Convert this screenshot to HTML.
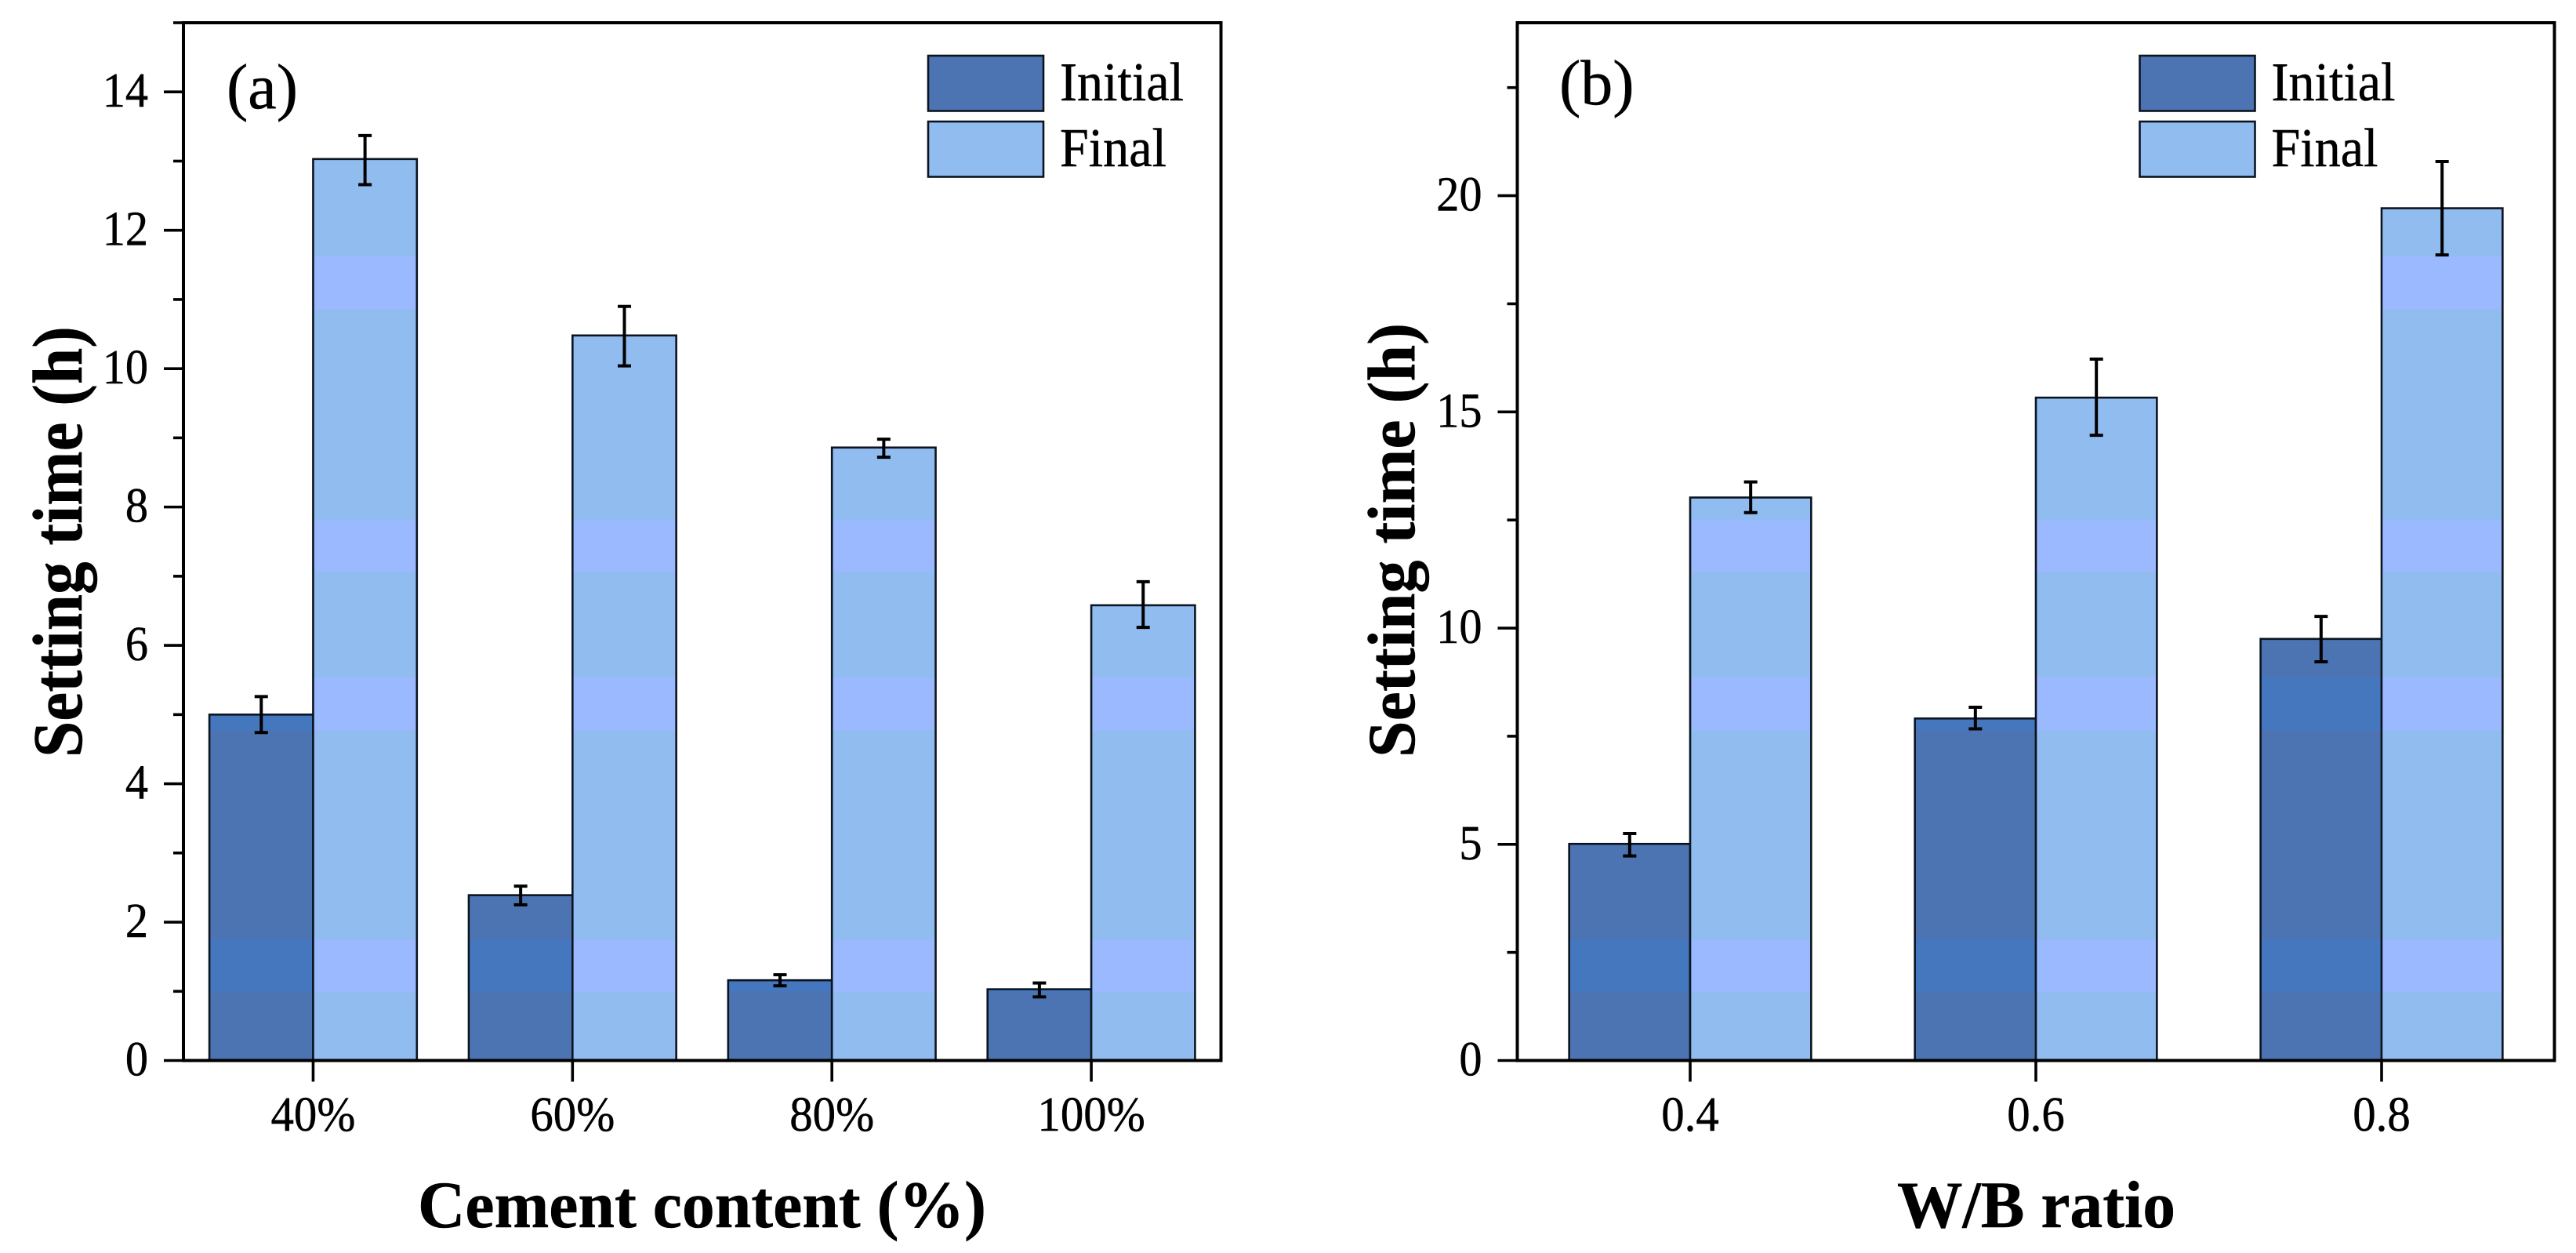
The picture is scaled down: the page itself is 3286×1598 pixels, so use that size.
<!DOCTYPE html>
<html lang="en">
<head>
<meta charset="utf-8">
<title>Setting time charts</title>
<style>
html,body{margin:0;padding:0;background:#fff;}
svg{display:block;}
text{font-family:"Liberation Serif",serif;fill:#000;stroke:#000;stroke-width:.5px;}
</style>
</head>
<body>
<svg id="figure" xmlns="http://www.w3.org/2000/svg" width="3286" height="1598" viewBox="0 0 3286 1598">
<defs>
<linearGradient id="initial-fill" gradientUnits="userSpaceOnUse" x1="0" y1="0" x2="0" y2="1598">
<stop offset="0" stop-color="#4c74b2"/><stop offset=".2043" stop-color="#4c74b2"/>
<stop offset=".2043" stop-color="#4577bf"/><stop offset=".2466" stop-color="#4577bf"/>
<stop offset=".2466" stop-color="#4c74b2"/><stop offset=".4149" stop-color="#4c74b2"/>
<stop offset=".4149" stop-color="#4577bf"/><stop offset=".4566" stop-color="#4577bf"/>
<stop offset=".4566" stop-color="#4c74b2"/><stop offset=".5404" stop-color="#4c74b2"/>
<stop offset=".5404" stop-color="#4577bf"/><stop offset=".5828" stop-color="#4577bf"/>
<stop offset=".5828" stop-color="#4c74b2"/><stop offset=".75" stop-color="#4c74b2"/>
<stop offset=".75" stop-color="#4577bf"/><stop offset=".7922" stop-color="#4577bf"/>
<stop offset=".7922" stop-color="#4c74b2"/><stop offset="1" stop-color="#4c74b2"/>
</linearGradient>
<linearGradient id="final-fill" gradientUnits="userSpaceOnUse" x1="0" y1="0" x2="0" y2="1598">
<stop offset="0" stop-color="#91bcf0"/><stop offset=".2043" stop-color="#91bcf0"/>
<stop offset=".2043" stop-color="#9bb9fe"/><stop offset=".2466" stop-color="#9bb9fe"/>
<stop offset=".2466" stop-color="#91bcf0"/><stop offset=".4149" stop-color="#91bcf0"/>
<stop offset=".4149" stop-color="#9bb9fe"/><stop offset=".4566" stop-color="#9bb9fe"/>
<stop offset=".4566" stop-color="#91bcf0"/><stop offset=".5404" stop-color="#91bcf0"/>
<stop offset=".5404" stop-color="#9bb9fe"/><stop offset=".5828" stop-color="#9bb9fe"/>
<stop offset=".5828" stop-color="#91bcf0"/><stop offset=".75" stop-color="#91bcf0"/>
<stop offset=".75" stop-color="#9bb9fe"/><stop offset=".7922" stop-color="#9bb9fe"/>
<stop offset=".7922" stop-color="#91bcf0"/><stop offset="1" stop-color="#91bcf0"/>
</linearGradient>
</defs>

<g>
<text x="289" y="138" font-size="82">(a)</text>
<text x="533" y="1565" font-size="85" font-weight="bold" textLength="725" lengthAdjust="spacingAndGlyphs">Cement content (%)</text>
<text transform="translate(104,966) rotate(-90)" font-size="90" font-weight="bold" textLength="550" lengthAdjust="spacingAndGlyphs">Setting time (h)</text>
</g>
<g>
<text x="1989" y="133" font-size="82">(b)</text>
<text x="2420" y="1565" font-size="85" font-weight="bold" textLength="355" lengthAdjust="spacingAndGlyphs">W/B ratio</text>
<text transform="translate(1804,966) rotate(-90)" font-size="86" font-weight="bold" textLength="554" lengthAdjust="spacingAndGlyphs">Setting time (h)</text>
</g>

<script>
// Panel (a): cement content
const cementCategories = ['40%', '60%', '80%', '100%'];
const cementInitial = [5.0, 2.39, 1.16, 1.03];
const cementInitialUpper = [5.26, 2.52, 1.24, 1.12];
const cementInitialLower = [4.74, 2.25, 1.08, 0.92];
const cementFinal = [13.03, 10.48, 8.86, 6.58];
const cementFinalUpper = [13.37, 10.9, 8.98, 6.92];
const cementFinalLower = [12.66, 10.04, 8.72, 6.26];
const cementMajorTicks = [0, 2, 4, 6, 8, 10, 12, 14];
const cementMinorTicks = [1, 3, 5, 7, 9, 11, 13, 15];

// Panel (b): water/binder ratio
const ratioCategories = ['0.4', '0.6', '0.8'];
const ratioInitial = [5.01, 7.91, 9.75];
const ratioInitialUpper = [5.25, 8.17, 10.27];
const ratioInitialLower = [4.73, 7.67, 9.22];
const ratioFinal = [13.02, 15.33, 19.71];
const ratioFinalUpper = [13.38, 16.22, 20.79];
const ratioFinalLower = [12.67, 14.46, 18.63];
const ratioMajorTicks = [0, 5, 10, 15, 20];
const ratioMinorTicks = [2.5, 7.5, 12.5, 17.5, 22.5];

const legendLabels = ['Initial', 'Final'];

const SVG_NS = 'http://www.w3.org/2000/svg';
const figure = document.getElementById('figure');

function make(parent, tag, attrs) {
  const node = document.createElementNS(SVG_NS, tag);
  for (const key in attrs) node.setAttribute(key, attrs[key]);
  parent.appendChild(node);
  return node;
}

function drawPanel(p) {
  const left = p.left, right = p.right, top = 29, bottom = 1352.5;
  const yScale = v => bottom - (v / p.yMax) * (bottom - top);
  const step = (right - left) / p.categories.length;
  const xScale = i => left + step * (i + 0.5);
  const barWidth = step * p.barFraction;

  const panel = make(figure, 'g', {});
  
  

  function drawBar(value, upper, lower, x, fill, seriesName, category) {
    const bar = make(panel, 'rect', {
      x: x, y: yScale(value), width: barWidth, height: bottom - yScale(value),
      fill: fill, stroke: '#0c1420', 'stroke-width': 2.6
    });
    
    
    const cx = x + barWidth / 2;
    const capHalf = 8.5;
    const err = make(panel, 'path', {
      d: 'M' + cx + ' ' + yScale(upper) + 'V' + yScale(lower) +
         'M' + (cx - capHalf) + ' ' + yScale(upper) + 'H' + (cx + capHalf) +
         'M' + (cx - capHalf) + ' ' + yScale(lower) + 'H' + (cx + capHalf),
      fill: 'none', stroke: '#000', 'stroke-width': 4
    });
    
    
  }

  p.categories.forEach((category, i) => {
    drawBar(p.initial[i], p.initialUpper[i], p.initialLower[i], xScale(i) - barWidth, 'url(#initial-fill)', 'initial', category);
  });
  p.categories.forEach((category, i) => {
    drawBar(p.final[i], p.finalUpper[i], p.finalLower[i], xScale(i), 'url(#final-fill)', 'final', category);
  });

  const frame = make(panel, 'rect', {
    x: left, y: top, width: right - left, height: bottom - top,
    fill: 'none', stroke: '#000', 'stroke-width': 4
  });
  
  

  p.majorTicks.forEach(v => {
    const tick = make(panel, 'line', {
      x1: left - 25, x2: left, y1: yScale(v), y2: yScale(v), stroke: '#000', 'stroke-width': 3.6
    });
    
    
    const label = make(panel, 'text', {
      transform: 'translate(' + (left - 45) + ',' + (yScale(v) + 19) + ') scale(.94,1)',
      'text-anchor': 'end', 'font-size': 62
    });
    label.textContent = String(v);
    
    
  });

  p.minorTicks.forEach(v => {
    const tick = make(panel, 'line', {
      x1: left - 13, x2: left, y1: yScale(v), y2: yScale(v), stroke: '#000', 'stroke-width': 3.6
    });
    
    
  });

  p.categories.forEach((category, i) => {
    const tick = make(panel, 'line', {
      x1: xScale(i), x2: xScale(i), y1: bottom, y2: bottom + 27, stroke: '#000', 'stroke-width': 3.6
    });
    
    
    const label = make(panel, 'text', {
      transform: 'translate(' + xScale(i) + ',1442) scale(.95,1)',
      'text-anchor': 'middle', 'font-size': 62
    });
    label.textContent = category;
    
    
  });

  const legend = make(panel, 'g', {});
  
  
  const fills = ['url(#initial-fill)', 'url(#final-fill)'];
  legendLabels.forEach((text, i) => {
    const swatch = make(legend, 'rect', {
      x: p.legendX, y: 71 + i * 84, width: 147, height: 70.5,
      fill: fills[i], stroke: '#0c1420', 'stroke-width': 2.6
    });
    
    
    const label = make(legend, 'text', {
      transform: 'translate(' + (p.legendX + 168) + ',' + (128 + i * 84) + ') scale(.945,1)',
      'font-size': 70
    });
    label.textContent = text;
    
    
  });
}

drawPanel({
  name: 'panel-a-cement-content', left: 234, right: 1557.5, yMax: 15, barFraction: 0.4, legendX: 1184,
  categories: cementCategories,
  initial: cementInitial, initialUpper: cementInitialUpper, initialLower: cementInitialLower,
  final: cementFinal, finalUpper: cementFinalUpper, finalLower: cementFinalLower,
  majorTicks: cementMajorTicks, minorTicks: cementMinorTicks
});
drawPanel({
  name: 'panel-b-wb-ratio', left: 1935.5, right: 3258.5, yMax: 24, barFraction: 0.35, legendX: 2729.5,
  categories: ratioCategories,
  initial: ratioInitial, initialUpper: ratioInitialUpper, initialLower: ratioInitialLower,
  final: ratioFinal, finalUpper: ratioFinalUpper, finalLower: ratioFinalLower,
  majorTicks: ratioMajorTicks, minorTicks: ratioMinorTicks
});
</script>
</svg>
</body>
</html>
